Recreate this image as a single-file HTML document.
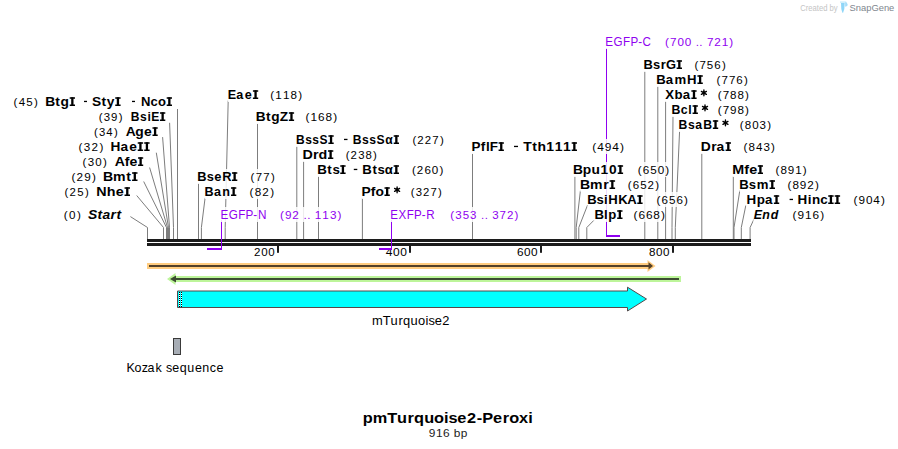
<!DOCTYPE html>
<html><head><meta charset="utf-8"><style>
html,body{margin:0;padding:0;background:#fff;overflow:hidden;}
svg{display:block;font-family:"Liberation Sans",sans-serif;}
</style></head><body>
<svg width="898" height="449" viewBox="0 0 898 449">
<rect x="0" y="0" width="898" height="449" fill="#fff"/>

<polyline points="130.40,216.60 147.50,227.50 147.50,239" fill="none" stroke="#7d7d7d" stroke-width="1"/>
<polyline points="136.70,195.50 163.50,227.50 163.50,239" fill="none" stroke="#7d7d7d" stroke-width="1"/>
<polyline points="143.70,181.50 166.50,227.50 166.50,239" fill="none" stroke="#7d7d7d" stroke-width="1"/>
<polyline points="149.60,167.50 167.50,227.50 167.50,239" fill="none" stroke="#7d7d7d" stroke-width="1"/>
<polyline points="156.30,152.70 168.50,227.50 168.50,239" fill="none" stroke="#7d7d7d" stroke-width="1"/>
<polyline points="162.60,137.10 169.50,227.50 169.50,239" fill="none" stroke="#7d7d7d" stroke-width="1"/>
<polyline points="169.60,122.80 173.50,227.50 173.50,239" fill="none" stroke="#7d7d7d" stroke-width="1"/>
<line x1="177.50" y1="109.00" x2="177.50" y2="239.00" stroke="#7d7d7d" stroke-width="1"/>
<rect x="166" y="227.5" width="4" height="11.5" fill="#7d7d7d"/>
<line x1="198.50" y1="183.00" x2="198.50" y2="239.00" stroke="#7d7d7d" stroke-width="1"/>
<polyline points="205.10,197.80 201.40,227.50 201.40,239" fill="none" stroke="#7d7d7d" stroke-width="1"/>
<polyline points="228.20,100.50 225.20,227.50 225.20,239" fill="none" stroke="#7d7d7d" stroke-width="1"/>
<line x1="257.50" y1="123.50" x2="257.50" y2="239.00" stroke="#7d7d7d" stroke-width="1"/>
<line x1="296.80" y1="146.00" x2="296.80" y2="239.00" stroke="#7d7d7d" stroke-width="1"/>
<line x1="303.60" y1="161.00" x2="303.60" y2="239.00" stroke="#7d7d7d" stroke-width="1"/>
<line x1="318.50" y1="176.00" x2="318.50" y2="239.00" stroke="#7d7d7d" stroke-width="1"/>
<line x1="362.40" y1="198.00" x2="362.40" y2="239.00" stroke="#7d7d7d" stroke-width="1"/>
<line x1="472.50" y1="153.50" x2="472.50" y2="239.00" stroke="#7d7d7d" stroke-width="1"/>
<line x1="574.90" y1="176.00" x2="574.90" y2="239.00" stroke="#7d7d7d" stroke-width="1"/>
<polyline points="580.40,190.70 576.20,227.50 576.20,239" fill="none" stroke="#7d7d7d" stroke-width="1"/>
<polyline points="587.60,205.00 578.80,227.50 578.80,239" fill="none" stroke="#7d7d7d" stroke-width="1"/>
<polyline points="593.70,220.50 586.80,227.50 586.80,239" fill="none" stroke="#7d7d7d" stroke-width="1"/>
<line x1="644.80" y1="71.00" x2="644.80" y2="239.00" stroke="#7d7d7d" stroke-width="1"/>
<line x1="657.80" y1="86.00" x2="657.80" y2="239.00" stroke="#7d7d7d" stroke-width="1"/>
<line x1="665.60" y1="101.00" x2="665.60" y2="239.00" stroke="#7d7d7d" stroke-width="1"/>
<polyline points="673.00,116.00 672.00,227.50 672.00,239" fill="none" stroke="#7d7d7d" stroke-width="1"/>
<polyline points="679.60,130.70 675.30,227.50 675.30,239" fill="none" stroke="#7d7d7d" stroke-width="1"/>
<line x1="701.80" y1="153.00" x2="701.80" y2="239.00" stroke="#7d7d7d" stroke-width="1"/>
<line x1="733.30" y1="176.30" x2="733.30" y2="239.00" stroke="#7d7d7d" stroke-width="1"/>
<polyline points="739.80,190.50 734.00,227.50 734.00,239" fill="none" stroke="#7d7d7d" stroke-width="1"/>
<polyline points="745.80,205.50 741.30,227.50 741.30,239" fill="none" stroke="#7d7d7d" stroke-width="1"/>
<polyline points="754.20,218.70 750.10,227.50 750.10,239" fill="none" stroke="#7d7d7d" stroke-width="1"/>
<rect x="147" y="239" width="604" height="3" fill="#1c1c1c"/>
<rect x="147" y="243" width="604" height="3" fill="#1c1c1c"/>
<rect x="277" y="245.5" width="2" height="7.3" fill="#1c1c1c"/>
<rect x="409" y="245.5" width="2" height="7.3" fill="#1c1c1c"/>
<rect x="540" y="245.5" width="2" height="7.3" fill="#1c1c1c"/>
<rect x="672" y="245.5" width="2" height="7.3" fill="#1c1c1c"/>
<rect x="147" y="263" width="503" height="6" fill="#ffcc80"/>
<polygon points="647.5,260 655.5,266 647.5,272" fill="#ffcc80"/>
<rect x="149" y="265" width="500" height="2" fill="#524029"/>
<polygon points="648.5,262.3 653,266 648.5,269.6" fill="#524029"/>
<rect x="173" y="276" width="508" height="6" fill="#bdf59a"/>
<polygon points="175.5,273 167,279 175.5,285" fill="#bdf59a"/>
<rect x="175" y="278" width="504" height="2" fill="#3c4b31"/>
<polygon points="176,275.5 170,279 176,282.5" fill="#3c4b31"/>
<polygon points="177.5,291 627.5,291 627.5,287.2 646.5,299 627.5,311 627.5,307.5 177.5,307.5" fill="#00ffff" stroke="#54494a" stroke-width="1"/>
<rect x="179" y="292" width="1" height="1" fill="#000" shape-rendering="crispEdges"/>
<rect x="181" y="292" width="1" height="1" fill="#000" shape-rendering="crispEdges"/>
<rect x="179" y="293" width="1" height="1" fill="#fff" shape-rendering="crispEdges"/>
<rect x="181" y="293" width="1" height="1" fill="#fff" shape-rendering="crispEdges"/>
<rect x="179" y="294" width="1" height="1" fill="#000" shape-rendering="crispEdges"/>
<rect x="181" y="294" width="1" height="1" fill="#000" shape-rendering="crispEdges"/>
<rect x="179" y="295" width="1" height="1" fill="#fff" shape-rendering="crispEdges"/>
<rect x="181" y="295" width="1" height="1" fill="#fff" shape-rendering="crispEdges"/>
<rect x="179" y="296" width="1" height="1" fill="#000" shape-rendering="crispEdges"/>
<rect x="181" y="296" width="1" height="1" fill="#000" shape-rendering="crispEdges"/>
<rect x="179" y="297" width="1" height="1" fill="#fff" shape-rendering="crispEdges"/>
<rect x="181" y="297" width="1" height="1" fill="#fff" shape-rendering="crispEdges"/>
<rect x="179" y="298" width="1" height="1" fill="#000" shape-rendering="crispEdges"/>
<rect x="181" y="298" width="1" height="1" fill="#000" shape-rendering="crispEdges"/>
<rect x="179" y="299" width="1" height="1" fill="#fff" shape-rendering="crispEdges"/>
<rect x="181" y="299" width="1" height="1" fill="#fff" shape-rendering="crispEdges"/>
<rect x="179" y="300" width="1" height="1" fill="#000" shape-rendering="crispEdges"/>
<rect x="181" y="300" width="1" height="1" fill="#000" shape-rendering="crispEdges"/>
<rect x="179" y="301" width="1" height="1" fill="#fff" shape-rendering="crispEdges"/>
<rect x="181" y="301" width="1" height="1" fill="#fff" shape-rendering="crispEdges"/>
<rect x="179" y="302" width="1" height="1" fill="#000" shape-rendering="crispEdges"/>
<rect x="181" y="302" width="1" height="1" fill="#000" shape-rendering="crispEdges"/>
<rect x="179" y="303" width="1" height="1" fill="#fff" shape-rendering="crispEdges"/>
<rect x="181" y="303" width="1" height="1" fill="#fff" shape-rendering="crispEdges"/>
<rect x="179" y="304" width="1" height="1" fill="#000" shape-rendering="crispEdges"/>
<rect x="181" y="304" width="1" height="1" fill="#000" shape-rendering="crispEdges"/>
<rect x="179" y="305" width="1" height="1" fill="#fff" shape-rendering="crispEdges"/>
<rect x="181" y="305" width="1" height="1" fill="#fff" shape-rendering="crispEdges"/>
<rect x="179" y="306" width="1" height="1" fill="#000" shape-rendering="crispEdges"/>
<rect x="181" y="306" width="1" height="1" fill="#000" shape-rendering="crispEdges"/>
<rect x="173.5" y="338.5" width="7" height="16" fill="#a7adb5" stroke="#3a3a3a" stroke-width="1"/>
<rect x="840" y="1.3" width="6.2" height="1.8" fill="#d2effc"/>
<polygon points="841,3 844.7,3 844.3,9 843.1,12.7 842.4,12.7 841.3,9" fill="#8fd6f8"/>
<polygon points="845.1,2.2 846.8,2.6 847.5,4.2 847.3,6 845.1,6.8" fill="#a5ddf9"/>
<text transform="scale(1.0126,1)" x="250.80 257.91 264.87" y="255.80" font-size="11.4" font-weight="normal" fill="#000">200</text>
<text transform="scale(1.0518,1)" x="366.71 373.60 380.48" y="255.80" font-size="11.4" font-weight="normal" fill="#000">400</text>
<text transform="scale(1.0342,1)" x="499.79 506.59 513.40" y="255.80" font-size="11.4" font-weight="normal" fill="#000">600</text>
<text transform="scale(1.0198,1)" x="636.41 643.27 650.12" y="255.80" font-size="11.4" font-weight="normal" fill="#000">800</text>
<text transform="scale(1.0235,1)" x="363.36 373.97 381.54 389.27 393.68 401.12 408.41 415.70 418.68 424.89 432.01" y="324.80" font-size="12.6" font-weight="normal" fill="#000">mTurquoise2</text>
<text transform="scale(1.0152,1)" x="124.56 132.44 139.54 145.39 153.29 160.86 163.50 169.79 177.05 184.57 191.98 199.34 206.49 213.17" y="371.80" font-size="12.3" font-weight="normal" fill="#000">Kozak sequence</text>
<text transform="scale(1.1264,1)" x="322.04 330.97 343.79 352.53 361.84 367.61 376.61 385.39 394.26 398.19 406.03 414.70 423.30 428.14 437.64 446.40 452.05 460.80 469.01" y="422.60" font-size="14.5" font-weight="bold" fill="#000">pmTurquoise2-Peroxi</text>
<text transform="scale(1.0929,1)" x="392.42 398.86 405.38 412.66 415.13 421.57" y="436.70" font-size="10.9" font-weight="normal" fill="#222">916 bp</text>
<text x="800.31" y="11.00" font-size="8.6" fill="#c4c4c4" textLength="37.40" lengthAdjust="spacingAndGlyphs">Created by</text>
<text x="849.58" y="11.00" font-size="9.0" fill="#80868e" textLength="44.74" lengthAdjust="spacingAndGlyphs">SnapGene</text>
<rect x="207" y="248" width="15" height="2" fill="#8f00f0"/><rect x="221" y="220" width="1" height="30" fill="#8f00f0"/>
<rect x="379" y="248" width="13" height="2" fill="#8f00f0"/><rect x="391" y="220" width="1" height="30" fill="#8f00f0"/>
<rect x="606" y="235" width="14" height="2" fill="#8f00f0"/><rect x="606" y="48" width="1" height="189" fill="#8f00f0"/>
<rect x="13.40" y="94.00" width="159.60" height="15" fill="#fff" fill-opacity="0.85"/>
<rect x="98.60" y="109.00" width="67.70" height="15" fill="#fff" fill-opacity="0.85"/>
<rect x="93.80" y="124.00" width="64.90" height="15" fill="#fff" fill-opacity="0.85"/>
<rect x="78.40" y="139.00" width="72.20" height="15" fill="#fff" fill-opacity="0.85"/>
<rect x="82.50" y="154.00" width="61.70" height="15" fill="#fff" fill-opacity="0.85"/>
<rect x="71.40" y="169.00" width="67.10" height="15" fill="#fff" fill-opacity="0.85"/>
<rect x="64.40" y="184.00" width="66.60" height="15" fill="#fff" fill-opacity="0.85"/>
<rect x="63.60" y="207.00" width="59.40" height="15" fill="#fff" fill-opacity="0.85"/>
<rect x="228.00" y="87.00" width="74.20" height="15" fill="#fff" fill-opacity="0.85"/>
<rect x="256.40" y="109.00" width="80.80" height="15" fill="#fff" fill-opacity="0.85"/>
<rect x="295.80" y="132.00" width="148.10" height="15" fill="#fff" fill-opacity="0.85"/>
<rect x="302.70" y="147.00" width="74.30" height="15" fill="#fff" fill-opacity="0.85"/>
<rect x="317.50" y="162.00" width="125.80" height="15" fill="#fff" fill-opacity="0.85"/>
<rect x="197.50" y="169.00" width="77.30" height="15" fill="#fff" fill-opacity="0.85"/>
<rect x="204.70" y="184.00" width="69.50" height="15" fill="#fff" fill-opacity="0.85"/>
<rect x="361.70" y="184.00" width="80.30" height="15" fill="#fff" fill-opacity="0.85"/>
<rect x="220.70" y="207.00" width="120.80" height="15" fill="#fff" fill-opacity="0.85"/>
<rect x="390.50" y="207.00" width="128.00" height="15" fill="#fff" fill-opacity="0.85"/>
<rect x="471.70" y="139.00" width="152.30" height="15" fill="#fff" fill-opacity="0.85"/>
<rect x="573.40" y="162.00" width="95.90" height="15" fill="#fff" fill-opacity="0.85"/>
<rect x="580.40" y="177.00" width="78.80" height="15" fill="#fff" fill-opacity="0.85"/>
<rect x="587.50" y="192.00" width="100.40" height="15" fill="#fff" fill-opacity="0.85"/>
<rect x="594.70" y="207.00" width="70.20" height="15" fill="#fff" fill-opacity="0.85"/>
<rect x="605.50" y="34.00" width="127.80" height="15" fill="#fff" fill-opacity="0.85"/>
<rect x="643.70" y="57.00" width="82.10" height="15" fill="#fff" fill-opacity="0.85"/>
<rect x="656.50" y="72.00" width="91.30" height="15" fill="#fff" fill-opacity="0.85"/>
<rect x="664.30" y="87.00" width="84.70" height="15" fill="#fff" fill-opacity="0.85"/>
<rect x="671.60" y="102.00" width="77.40" height="15" fill="#fff" fill-opacity="0.85"/>
<rect x="678.50" y="117.00" width="92.60" height="15" fill="#fff" fill-opacity="0.85"/>
<rect x="700.60" y="139.00" width="74.30" height="15" fill="#fff" fill-opacity="0.85"/>
<rect x="732.50" y="162.00" width="74.30" height="15" fill="#fff" fill-opacity="0.85"/>
<rect x="739.50" y="177.00" width="79.40" height="15" fill="#fff" fill-opacity="0.85"/>
<rect x="746.40" y="192.00" width="138.50" height="15" fill="#fff" fill-opacity="0.85"/>
<rect x="753.40" y="207.00" width="70.80" height="15" fill="#fff" fill-opacity="0.85"/>
<text transform="scale(1.0141,1)" x="13.31 18.40 25.89 33.58" y="106.00" font-size="11.4" font-weight="normal" fill="#000">(45)</text>
<text transform="scale(1.0870,1)" x="41.56 50.87 55.72 64.79" y="106.00" font-size="12.7" font-weight="bold" fill="#000">Btg </text>
<rect x="84.00" y="100.80" width="3.00" height="1.3" fill="#000"/>
<text transform="scale(1.0846,1)" x="84.81 93.55 98.49 106.95" y="106.00" font-size="12.7" font-weight="bold" fill="#000">Sty </text>
<rect x="132.00" y="100.80" width="3.00" height="1.3" fill="#000"/>
<text transform="scale(1.0267,1)" x="137.27 146.52 153.90 163.17" y="106.00" font-size="12.7" font-weight="bold" fill="#000">Nco </text>
<text transform="scale(1.0014,1)" x="98.55 103.57 110.95 118.54" y="121.00" font-size="11.4" font-weight="normal" fill="#000">(39)</text>
<text transform="scale(0.9534,1)" x="137.22 146.96 154.62 158.59 168.82" y="121.00" font-size="12.7" font-weight="bold" fill="#000">BsiE </text>
<text transform="scale(0.9928,1)" x="94.59 99.66 107.14 114.75" y="136.00" font-size="11.4" font-weight="normal" fill="#000">(34)</text>
<text transform="scale(1.0922,1)" x="115.21 123.95 131.85 140.24" y="136.00" font-size="12.7" font-weight="bold" fill="#000">Age </text>
<text transform="scale(1.0265,1)" x="76.47 81.63 89.07 96.93" y="151.00" font-size="11.4" font-weight="normal" fill="#000">(32)</text>
<text transform="scale(1.0775,1)" x="102.61 111.82 119.87 128.56 134.58" y="151.00" font-size="12.7" font-weight="bold" fill="#000">Hae  </text>
<text transform="scale(1.0138,1)" x="81.47 86.55 94.05 101.66" y="166.00" font-size="11.4" font-weight="normal" fill="#000">(30)</text>
<text transform="scale(1.1118,1)" x="103.33 112.18 116.54 124.72" y="166.00" font-size="12.7" font-weight="bold" fill="#000">Afe </text>
<text transform="scale(1.0295,1)" x="69.42 74.26 81.81 89.39" y="181.00" font-size="11.4" font-weight="normal" fill="#000">(29)</text>
<text transform="scale(1.1113,1)" x="92.65 101.61 113.53 119.53" y="181.00" font-size="12.7" font-weight="bold" fill="#000">Bmt </text>
<text transform="scale(0.9983,1)" x="64.64 69.67 77.44 85.22" y="196.00" font-size="11.4" font-weight="normal" fill="#000">(25)</text>
<text transform="scale(1.1280,1)" x="85.44 94.64 102.59 111.06" y="196.00" font-size="12.7" font-weight="bold" fill="#000">Nhe </text>
<text transform="scale(1.0249,1)" x="62.16 67.37 75.12" y="219.00" font-size="11.4" font-weight="normal" fill="#000">(0)</text>
<text transform="scale(1.0936,1)" x="80.56 89.13 93.80 101.15 106.50" y="219.00" font-size="12.7" font-weight="bold" font-style="italic" fill="#000">Start</text>
<text transform="scale(0.9951,1)" x="228.85 237.38 245.93 255.06" y="99.00" font-size="12.7" font-weight="bold" fill="#000">Eae </text>
<text transform="scale(1.0200,1)" x="264.98 269.93 277.37 284.85 292.41" y="99.00" font-size="11.4" font-weight="normal" fill="#000">(118)</text>
<text transform="scale(1.0783,1)" x="237.30 246.60 251.45 259.47 268.54" y="121.00" font-size="12.7" font-weight="bold" fill="#000">BtgZ </text>
<text transform="scale(1.0350,1)" x="295.09 299.92 307.26 314.53 321.96" y="121.00" font-size="11.4" font-weight="normal" fill="#000">(168)</text>
<text transform="scale(0.9470,1)" x="312.50 322.25 329.81 337.46 347.82" y="144.00" font-size="12.7" font-weight="bold" fill="#000">BssS </text>
<rect x="344.00" y="138.80" width="3.50" height="1.3" fill="#000"/>
<text transform="scale(0.9586,1)" x="368.11 377.76 385.24 392.79 401.76 411.69" y="144.00" font-size="12.7" font-weight="bold" fill="#000">BssSα </text>
<text transform="scale(1.0026,1)" x="411.33 416.20 423.67 431.26 438.86" y="144.00" font-size="11.4" font-weight="normal" fill="#000">(227)</text>
<text transform="scale(1.1290,1)" x="267.96 277.27 282.21 291.09" y="159.00" font-size="12.7" font-weight="bold" fill="#000">Drd </text>
<text transform="scale(1.0009,1)" x="345.46 350.29 357.85 365.24 372.77" y="159.00" font-size="11.4" font-weight="normal" fill="#000">(238)</text>
<text transform="scale(1.0531,1)" x="301.19 310.78 315.67 323.88" y="174.00" font-size="12.7" font-weight="bold" fill="#000">Bts </text>
<rect x="353.80" y="168.80" width="3.50" height="1.3" fill="#000"/>
<text transform="scale(1.0392,1)" x="348.67 358.34 363.31 370.22 379.61" y="174.00" font-size="12.7" font-weight="bold" fill="#000">Btsα </text>
<text transform="scale(1.0175,1)" x="404.97 409.71 417.14 424.42 431.85" y="174.00" font-size="11.4" font-weight="normal" fill="#000">(260)</text>
<text transform="scale(1.0129,1)" x="194.83 204.09 211.58 219.40 229.87" y="181.00" font-size="12.7" font-weight="bold" fill="#000">BseR </text>
<text transform="scale(1.0012,1)" x="250.30 255.37 262.90 270.56" y="181.00" font-size="11.4" font-weight="normal" fill="#000">(77)</text>
<text transform="scale(0.9928,1)" x="206.11 215.44 223.95 233.59" y="196.00" font-size="12.7" font-weight="bold" fill="#000">Ban </text>
<text transform="scale(1.0267,1)" x="243.08 248.13 255.45 263.20" y="196.00" font-size="11.4" font-weight="normal" fill="#000">(82)</text>
<text transform="scale(1.0895,1)" x="331.78 340.32 344.73 353.58" y="196.00" font-size="12.7" font-weight="bold" fill="#000">Pfo </text>
<path d="M397.10,187.00L397.10,192.80M394.59,188.45L399.61,191.35M399.61,188.45L394.59,191.35" stroke="#000" stroke-width="1.35" stroke-linecap="round"/><circle cx="397.10" cy="189.90" r="1.3" fill="#000"/>
<text transform="scale(0.9919,1)" x="414.15 419.20 426.49 434.09 441.70" y="196.00" font-size="11.4" font-weight="normal" fill="#000">(327)</text>
<text transform="scale(0.9603,1)" x="229.64 238.17 248.06 255.67 263.78 268.67" y="219.00" font-size="12.2" font-weight="normal" fill="#8f00f0">EGFP-N</text>
<text transform="scale(1.1086,1)" x="252.51 257.01 263.66 271.19 273.72 277.10 281.32 284.02 290.78 297.60 304.49" y="219.00" font-size="10.6" font-weight="normal" fill="#8f00f0">(92 .. 113)</text>
<text transform="scale(0.9491,1)" x="411.29 419.92 428.54 436.16 444.27 449.06" y="219.00" font-size="12.2" font-weight="normal" fill="#8f00f0">EXFP-R</text>
<text transform="scale(1.0869,1)" x="414.34 418.92 425.67 432.52 439.93 442.48 445.88 450.12 452.92 459.68 466.37 473.44" y="219.00" font-size="10.6" font-weight="normal" fill="#8f00f0">(353 .. 372)</text>
<text transform="scale(1.0607,1)" x="444.64 453.36 458.10 461.66 470.82" y="151.00" font-size="12.7" font-weight="bold" fill="#000">PflF </text>
<rect x="514.00" y="145.80" width="4.00" height="1.3" fill="#000"/>
<text transform="scale(1.0973,1)" x="476.90 484.99 489.79 497.91 505.55 513.19 521.67" y="151.00" font-size="12.7" font-weight="bold" fill="#000">Tth111 </text>
<text transform="scale(1.0456,1)" x="566.37 571.19 578.36 585.60 592.98" y="151.00" font-size="11.4" font-weight="normal" fill="#000">(494)</text>
<text transform="scale(1.0839,1)" x="528.59 537.73 545.73 554.07 561.92 570.60" y="174.00" font-size="12.7" font-weight="bold" fill="#000">Bpu10 </text>
<text transform="scale(1.0262,1)" x="621.37 626.29 633.55 640.92 648.38" y="174.00" font-size="11.4" font-weight="normal" fill="#000">(650)</text>
<text transform="scale(1.1078,1)" x="523.48 532.63 544.62 550.98" y="189.00" font-size="12.7" font-weight="bold" fill="#000">Bmr </text>
<text transform="scale(1.0127,1)" x="619.82 624.79 632.13 639.41 647.09" y="189.00" font-size="11.4" font-weight="normal" fill="#000">(652)</text>
<text transform="scale(1.0330,1)" x="568.47 577.53 584.72 588.79 598.56 607.28 617.71" y="204.00" font-size="12.7" font-weight="bold" fill="#000">BsiHKA </text>
<text transform="scale(1.0208,1)" x="643.24 648.11 655.31 662.62 670.03" y="204.00" font-size="11.4" font-weight="normal" fill="#000">(656)</text>
<text transform="scale(1.0376,1)" x="572.90 582.19 586.31 595.62" y="219.00" font-size="12.7" font-weight="bold" fill="#000">Blp </text>
<text transform="scale(1.0385,1)" x="610.13 614.90 622.03 629.16 636.47" y="219.00" font-size="11.4" font-weight="normal" fill="#000">(668)</text>
<text transform="scale(0.9529,1)" x="635.30 643.93 653.93 661.63 669.81 674.39" y="46.00" font-size="12.2" font-weight="normal" fill="#8f00f0">EGFP-C</text>
<text transform="scale(1.1054,1)" x="601.61 606.07 612.79 619.49 626.84 629.33 632.68 636.88 639.55 646.13 652.92 659.82" y="46.00" font-size="10.6" font-weight="normal" fill="#8f00f0">(700 .. 721)</text>
<text transform="scale(1.0171,1)" x="632.75 642.00 649.67 654.89 666.16" y="69.00" font-size="12.7" font-weight="bold" fill="#000">BsrG </text>
<text transform="scale(1.0095,1)" x="687.96 692.88 700.22 707.63 715.13" y="69.00" font-size="11.4" font-weight="normal" fill="#000">(756)</text>
<text transform="scale(1.0367,1)" x="633.07 642.16 650.59 662.72 673.59" y="84.00" font-size="12.7" font-weight="bold" fill="#000">BamH </text>
<text transform="scale(1.0148,1)" x="706.11 710.98 718.28 725.60 733.05" y="84.00" font-size="11.4" font-weight="normal" fill="#000">(776)</text>
<text transform="scale(1.0412,1)" x="638.95 647.89 655.69 664.78" y="99.00" font-size="12.7" font-weight="bold" fill="#000">Xba </text>
<path d="M703.90,90.00L703.90,95.80M701.39,91.45L706.41,94.35M706.41,91.45L701.39,94.35" stroke="#000" stroke-width="1.35" stroke-linecap="round"/><circle cx="703.90" cy="92.90" r="1.3" fill="#000"/>
<text transform="scale(1.0177,1)" x="705.25 710.11 717.41 724.69 732.12" y="99.00" font-size="11.4" font-weight="normal" fill="#000">(788)</text>
<text transform="scale(0.9704,1)" x="692.11 701.40 709.22 714.65" y="114.00" font-size="12.7" font-weight="bold" fill="#000">Bcl </text>
<path d="M705.00,105.00L705.00,110.80M702.49,106.45L707.51,109.35M707.51,106.45L702.49,109.35" stroke="#000" stroke-width="1.35" stroke-linecap="round"/><circle cx="705.00" cy="107.90" r="1.3" fill="#000"/>
<text transform="scale(1.0232,1)" x="701.48 706.31 713.53 720.81 728.21" y="114.00" font-size="11.4" font-weight="normal" fill="#000">(798)</text>
<text transform="scale(0.9631,1)" x="704.62 714.30 721.79 730.24 741.21" y="129.00" font-size="12.7" font-weight="bold" fill="#000">BsaB </text>
<path d="M725.45,120.00L725.45,125.80M722.94,121.45L727.96,124.35M727.96,121.45L722.94,124.35" stroke="#000" stroke-width="1.35" stroke-linecap="round"/><circle cx="725.45" cy="122.90" r="1.3" fill="#000"/>
<text transform="scale(1.0143,1)" x="729.31 734.24 741.56 748.90 756.36" y="129.00" font-size="11.4" font-weight="normal" fill="#000">(803)</text>
<text transform="scale(1.0952,1)" x="639.74 649.35 654.29 663.25" y="151.00" font-size="12.7" font-weight="bold" fill="#000">Dra </text>
<text transform="scale(1.0187,1)" x="729.83 734.75 742.06 749.40 756.85" y="151.00" font-size="11.4" font-weight="normal" fill="#000">(843)</text>
<text transform="scale(1.1283,1)" x="649.02 659.70 664.02 672.16" y="174.00" font-size="12.7" font-weight="bold" fill="#000">Mfe </text>
<text transform="scale(1.0206,1)" x="759.79 764.67 771.92 779.18 786.67" y="174.00" font-size="11.4" font-weight="normal" fill="#000">(891)</text>
<text transform="scale(1.0384,1)" x="711.93 721.13 728.69 741.93" y="189.00" font-size="12.7" font-weight="bold" fill="#000">Bsm </text>
<text transform="scale(1.0265,1)" x="767.12 771.99 779.22 786.37 793.94" y="189.00" font-size="11.4" font-weight="normal" fill="#000">(892)</text>
<text transform="scale(1.0545,1)" x="707.96 717.67 725.52 734.65" y="204.00" font-size="12.7" font-weight="bold" fill="#000">Hpa </text>
<rect x="789.60" y="198.80" width="3.40" height="1.3" fill="#000"/>
<text transform="scale(1.0574,1)" x="754.29 763.94 767.93 775.62 784.09 790.22" y="204.00" font-size="12.7" font-weight="bold" fill="#000">Hinc  </text>
<text transform="scale(1.0309,1)" x="827.93 832.72 839.97 847.17 854.55" y="204.00" font-size="11.4" font-weight="normal" fill="#000">(904)</text>
<text transform="scale(0.9790,1)" x="769.90 778.73 787.16" y="219.00" font-size="12.7" font-weight="bold" font-style="italic" fill="#000">End</text>
<text transform="scale(1.0372,1)" x="764.12 768.93 776.15 783.44 790.84" y="219.00" font-size="11.4" font-weight="normal" fill="#000">(916)</text>
<rect x="71.20" y="97.26" width="2.3" height="8.74" fill="#000"/>
<rect x="69.70" y="97.26" width="5.30" height="1.5" fill="#000"/>
<rect x="69.70" y="104.50" width="5.30" height="1.5" fill="#000"/>
<rect x="116.77" y="97.26" width="2.3" height="8.74" fill="#000"/>
<rect x="115.23" y="97.26" width="5.37" height="1.5" fill="#000"/>
<rect x="115.23" y="104.50" width="5.37" height="1.5" fill="#000"/>
<rect x="168.19" y="97.26" width="2.3" height="8.74" fill="#000"/>
<rect x="166.69" y="97.26" width="5.31" height="1.5" fill="#000"/>
<rect x="166.69" y="104.50" width="5.31" height="1.5" fill="#000"/>
<rect x="161.49" y="112.26" width="2.3" height="8.74" fill="#000"/>
<rect x="159.98" y="112.26" width="5.32" height="1.5" fill="#000"/>
<rect x="159.98" y="119.50" width="5.32" height="1.5" fill="#000"/>
<rect x="153.94" y="127.26" width="2.3" height="8.74" fill="#000"/>
<rect x="152.48" y="127.26" width="5.22" height="1.5" fill="#000"/>
<rect x="152.48" y="134.50" width="5.22" height="1.5" fill="#000"/>
<rect x="139.27" y="142.26" width="2.3" height="8.74" fill="#000"/>
<rect x="137.73" y="142.26" width="5.38" height="1.5" fill="#000"/>
<rect x="137.73" y="149.50" width="5.38" height="1.5" fill="#000"/>
<rect x="145.76" y="142.26" width="2.3" height="8.74" fill="#000"/>
<rect x="144.22" y="142.26" width="5.38" height="1.5" fill="#000"/>
<rect x="144.22" y="149.50" width="5.38" height="1.5" fill="#000"/>
<rect x="139.48" y="157.26" width="2.3" height="8.74" fill="#000"/>
<rect x="138.05" y="157.26" width="5.15" height="1.5" fill="#000"/>
<rect x="138.05" y="164.50" width="5.15" height="1.5" fill="#000"/>
<rect x="133.64" y="172.26" width="2.3" height="8.74" fill="#000"/>
<rect x="132.07" y="172.26" width="5.43" height="1.5" fill="#000"/>
<rect x="132.07" y="179.50" width="5.43" height="1.5" fill="#000"/>
<rect x="126.12" y="187.26" width="2.3" height="8.74" fill="#000"/>
<rect x="124.54" y="187.26" width="5.46" height="1.5" fill="#000"/>
<rect x="124.54" y="194.50" width="5.46" height="1.5" fill="#000"/>
<rect x="254.41" y="90.26" width="2.3" height="8.74" fill="#000"/>
<rect x="252.91" y="90.26" width="5.29" height="1.5" fill="#000"/>
<rect x="252.91" y="97.50" width="5.29" height="1.5" fill="#000"/>
<rect x="290.32" y="112.26" width="2.3" height="8.74" fill="#000"/>
<rect x="288.85" y="112.26" width="5.25" height="1.5" fill="#000"/>
<rect x="288.85" y="119.50" width="5.25" height="1.5" fill="#000"/>
<rect x="329.90" y="135.26" width="2.3" height="8.74" fill="#000"/>
<rect x="328.40" y="135.26" width="5.30" height="1.5" fill="#000"/>
<rect x="328.40" y="142.50" width="5.30" height="1.5" fill="#000"/>
<rect x="395.20" y="135.26" width="2.3" height="8.74" fill="#000"/>
<rect x="393.70" y="135.26" width="5.30" height="1.5" fill="#000"/>
<rect x="393.70" y="142.50" width="5.30" height="1.5" fill="#000"/>
<rect x="329.47" y="150.26" width="2.3" height="8.74" fill="#000"/>
<rect x="327.95" y="150.26" width="5.35" height="1.5" fill="#000"/>
<rect x="327.95" y="157.50" width="5.35" height="1.5" fill="#000"/>
<rect x="341.77" y="165.26" width="2.3" height="8.74" fill="#000"/>
<rect x="340.25" y="165.26" width="5.35" height="1.5" fill="#000"/>
<rect x="340.25" y="172.50" width="5.35" height="1.5" fill="#000"/>
<rect x="395.18" y="165.26" width="2.3" height="8.74" fill="#000"/>
<rect x="393.66" y="165.26" width="5.34" height="1.5" fill="#000"/>
<rect x="393.66" y="172.50" width="5.34" height="1.5" fill="#000"/>
<rect x="233.48" y="172.26" width="2.3" height="8.74" fill="#000"/>
<rect x="231.96" y="172.26" width="5.34" height="1.5" fill="#000"/>
<rect x="231.96" y="179.50" width="5.34" height="1.5" fill="#000"/>
<rect x="232.50" y="187.26" width="2.3" height="8.74" fill="#000"/>
<rect x="231.00" y="187.26" width="5.30" height="1.5" fill="#000"/>
<rect x="231.00" y="194.50" width="5.30" height="1.5" fill="#000"/>
<rect x="386.00" y="187.26" width="2.3" height="8.74" fill="#000"/>
<rect x="384.50" y="187.26" width="5.30" height="1.5" fill="#000"/>
<rect x="384.50" y="194.50" width="5.30" height="1.5" fill="#000"/>
<rect x="500.10" y="142.26" width="2.3" height="8.74" fill="#000"/>
<rect x="498.59" y="142.26" width="5.31" height="1.5" fill="#000"/>
<rect x="498.59" y="149.50" width="5.31" height="1.5" fill="#000"/>
<rect x="573.20" y="142.26" width="2.3" height="8.74" fill="#000"/>
<rect x="571.70" y="142.26" width="5.30" height="1.5" fill="#000"/>
<rect x="571.70" y="149.50" width="5.30" height="1.5" fill="#000"/>
<rect x="619.25" y="165.26" width="2.3" height="8.74" fill="#000"/>
<rect x="617.71" y="165.26" width="5.39" height="1.5" fill="#000"/>
<rect x="617.71" y="172.50" width="5.39" height="1.5" fill="#000"/>
<rect x="611.19" y="180.26" width="2.3" height="8.74" fill="#000"/>
<rect x="609.59" y="180.26" width="5.51" height="1.5" fill="#000"/>
<rect x="609.59" y="187.50" width="5.51" height="1.5" fill="#000"/>
<rect x="638.79" y="195.26" width="2.3" height="8.74" fill="#000"/>
<rect x="637.29" y="195.26" width="5.31" height="1.5" fill="#000"/>
<rect x="637.29" y="202.50" width="5.31" height="1.5" fill="#000"/>
<rect x="618.69" y="210.26" width="2.3" height="8.74" fill="#000"/>
<rect x="617.17" y="210.26" width="5.33" height="1.5" fill="#000"/>
<rect x="617.17" y="217.50" width="5.33" height="1.5" fill="#000"/>
<rect x="678.17" y="60.26" width="2.3" height="8.74" fill="#000"/>
<rect x="676.64" y="60.26" width="5.36" height="1.5" fill="#000"/>
<rect x="676.64" y="67.50" width="5.36" height="1.5" fill="#000"/>
<rect x="698.96" y="75.26" width="2.3" height="8.74" fill="#000"/>
<rect x="697.43" y="75.26" width="5.37" height="1.5" fill="#000"/>
<rect x="697.43" y="82.50" width="5.37" height="1.5" fill="#000"/>
<rect x="692.83" y="90.26" width="2.3" height="8.74" fill="#000"/>
<rect x="691.36" y="90.26" width="5.24" height="1.5" fill="#000"/>
<rect x="691.36" y="97.50" width="5.24" height="1.5" fill="#000"/>
<rect x="694.09" y="105.26" width="2.3" height="8.74" fill="#000"/>
<rect x="692.58" y="105.26" width="5.32" height="1.5" fill="#000"/>
<rect x="692.58" y="112.50" width="5.32" height="1.5" fill="#000"/>
<rect x="714.38" y="120.26" width="2.3" height="8.74" fill="#000"/>
<rect x="712.86" y="120.26" width="5.34" height="1.5" fill="#000"/>
<rect x="712.86" y="127.50" width="5.34" height="1.5" fill="#000"/>
<rect x="727.15" y="142.26" width="2.3" height="8.74" fill="#000"/>
<rect x="725.59" y="142.26" width="5.41" height="1.5" fill="#000"/>
<rect x="725.59" y="149.50" width="5.41" height="1.5" fill="#000"/>
<rect x="759.26" y="165.26" width="2.3" height="8.74" fill="#000"/>
<rect x="757.81" y="165.26" width="5.19" height="1.5" fill="#000"/>
<rect x="757.81" y="172.50" width="5.19" height="1.5" fill="#000"/>
<rect x="771.13" y="180.26" width="2.3" height="8.74" fill="#000"/>
<rect x="769.56" y="180.26" width="5.44" height="1.5" fill="#000"/>
<rect x="769.56" y="187.50" width="5.44" height="1.5" fill="#000"/>
<rect x="775.38" y="195.26" width="2.3" height="8.74" fill="#000"/>
<rect x="773.86" y="195.26" width="5.34" height="1.5" fill="#000"/>
<rect x="773.86" y="202.50" width="5.34" height="1.5" fill="#000"/>
<rect x="829.77" y="195.26" width="2.3" height="8.74" fill="#000"/>
<rect x="828.23" y="195.26" width="5.38" height="1.5" fill="#000"/>
<rect x="828.23" y="202.50" width="5.38" height="1.5" fill="#000"/>
<rect x="836.26" y="195.26" width="2.3" height="8.74" fill="#000"/>
<rect x="834.72" y="195.26" width="5.38" height="1.5" fill="#000"/>
<rect x="834.72" y="202.50" width="5.38" height="1.5" fill="#000"/>
</svg></body></html>
